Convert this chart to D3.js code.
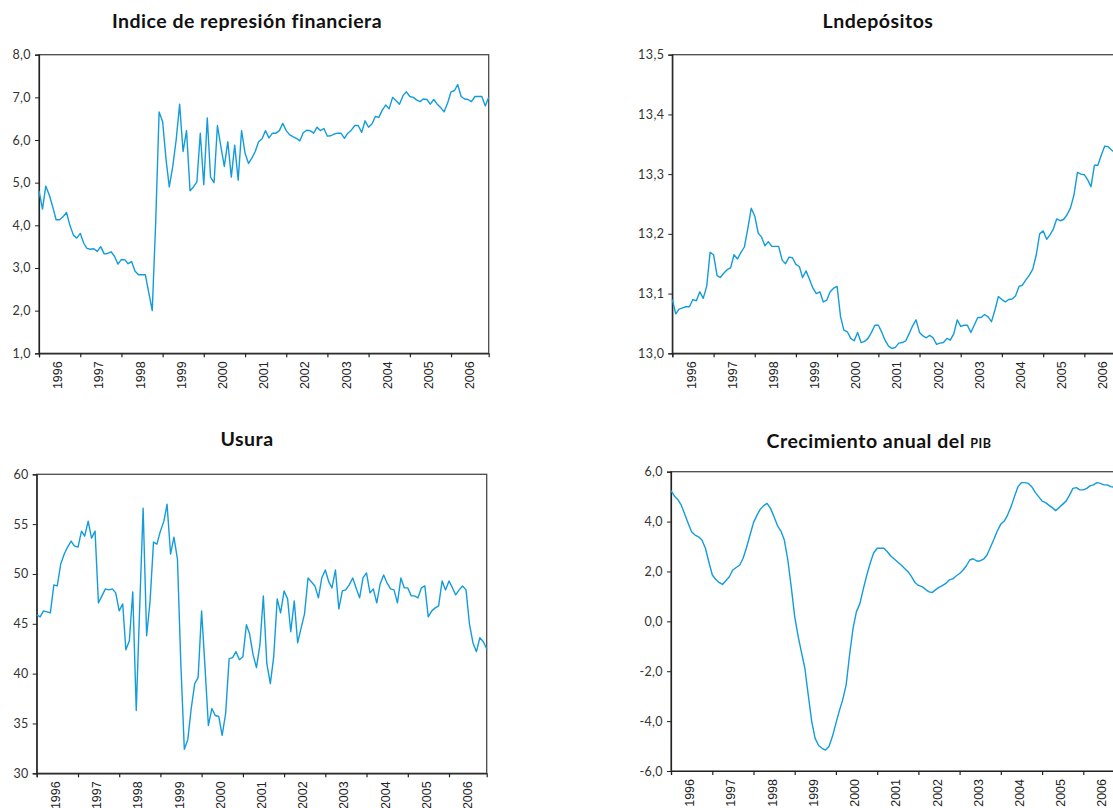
<!DOCTYPE html>
<html>
<head>
<meta charset="utf-8">
<script src="https://cdn.jsdelivr.net/npm/d3@7"></script>
<style>
body { margin: 0; background: #fff; }
</style>
</head>
<body>
<script>
// monthly series, Jan 1996 - Dec 2006
var represion = [
  4.81, 4.38, 4.92, 4.71, 4.44, 4.13, 4.13, 4.20, 4.30, 4.00, 3.77, 3.70,
  3.81, 3.58, 3.46, 3.44, 3.45, 3.39, 3.50, 3.33, 3.34, 3.38, 3.27, 3.09,
  3.20, 3.19, 3.10, 3.15, 2.93, 2.84, 2.84, 2.84, 2.41, 2.00, 4.10, 6.66,
  6.43, 5.53, 4.90, 5.38, 6.00, 6.84, 5.73, 6.22, 4.81, 4.90, 5.02, 6.16,
  4.95, 6.52, 5.13, 5.00, 6.34, 5.84, 5.38, 5.96, 5.13, 5.88, 5.06, 6.22,
  5.69, 5.45, 5.57, 5.73, 5.96, 6.03, 6.22, 6.05, 6.16, 6.16, 6.22, 6.39,
  6.22, 6.12, 6.08, 6.04, 5.98, 6.17, 6.23, 6.22, 6.16, 6.30, 6.22, 6.27,
  6.09, 6.10, 6.14, 6.16, 6.16, 6.04, 6.16, 6.23, 6.34, 6.34, 6.18, 6.45,
  6.30, 6.38, 6.55, 6.53, 6.70, 6.82, 6.73, 7.00, 6.92, 6.84, 7.04, 7.13,
  7.02, 7.00, 6.94, 6.90, 6.96, 6.95, 6.84, 6.95, 6.84, 6.76, 6.66, 6.86,
  7.13, 7.16, 7.30, 7.02, 6.96, 6.95, 6.90, 7.02, 7.02, 7.02, 6.80, 7.00
];

var lndepositos = [
  13.090, 13.066, 13.074, 13.076, 13.078, 13.078, 13.090, 13.088, 13.103, 13.092, 13.112, 13.169,
  13.165, 13.130, 13.127, 13.134, 13.140, 13.143, 13.165, 13.158, 13.169, 13.178, 13.209, 13.243,
  13.230, 13.201, 13.195, 13.180, 13.187, 13.179, 13.179, 13.179, 13.156, 13.150, 13.161, 13.160,
  13.149, 13.145, 13.127, 13.138, 13.124, 13.109, 13.100, 13.103, 13.086, 13.089, 13.103, 13.109,
  13.112, 13.061, 13.039, 13.036, 13.025, 13.021, 13.035, 13.018, 13.020, 13.025, 13.035, 13.047,
  13.047, 13.035, 13.022, 13.012, 13.008, 13.010, 13.017, 13.018, 13.021, 13.033, 13.046, 13.056,
  13.035, 13.029, 13.026, 13.030, 13.026, 13.015, 13.017, 13.018, 13.025, 13.022, 13.033, 13.056,
  13.045, 13.047, 13.047, 13.035, 13.047, 13.060, 13.060, 13.065, 13.061, 13.053, 13.073, 13.095,
  13.090, 13.086, 13.090, 13.091, 13.096, 13.112, 13.114, 13.123, 13.131, 13.141, 13.165, 13.200,
  13.205, 13.191, 13.198, 13.208, 13.225, 13.222, 13.224, 13.232, 13.244, 13.265, 13.303, 13.300,
  13.299, 13.290, 13.279, 13.315, 13.315, 13.332, 13.347, 13.346, 13.340, 13.336, 13.333, 13.338
];

var usura = [
  45.9, 45.7, 46.3, 46.2, 46.1, 48.9, 48.8, 51.0, 52.0, 52.7, 53.3, 52.8,
  52.7, 54.3, 53.8, 55.3, 53.6, 54.3, 47.1, 47.8, 48.5, 48.4, 48.5, 48.1,
  46.3, 47.0, 42.4, 43.3, 48.2, 36.3, 46.5, 56.6, 43.8, 47.2, 53.2, 53.0,
  54.3, 55.3, 57.0, 52.0, 53.7, 51.5, 41.0, 32.4, 33.4, 36.5, 39.0, 39.6,
  46.3, 40.5, 34.8, 36.5, 35.8, 35.7, 33.8, 36.0, 41.5, 41.6, 42.2, 41.4,
  41.7, 44.9, 44.0, 41.9, 40.6, 42.9, 47.8, 41.0, 39.0, 41.7, 47.5, 46.1,
  48.3, 47.5, 44.2, 47.3, 43.1, 44.6, 46.0, 49.6, 49.2, 48.8, 47.6, 49.6,
  50.4, 49.2, 48.6, 50.4, 46.5, 48.3, 48.4, 48.9, 49.6, 48.6, 47.6, 49.6,
  50.1, 48.1, 48.5, 47.1, 49.0, 49.9, 49.1, 48.5, 48.4, 47.1, 49.6, 48.6,
  48.6, 47.8, 47.8, 47.6, 48.6, 48.8, 45.7, 46.3, 46.6, 46.8, 49.3, 48.4,
  49.3, 48.6, 47.9, 48.4, 48.8, 48.4, 45.0, 43.1, 42.2, 43.6, 43.2, 42.5
];

var pib = [
  5.24, 5.02, 4.89, 4.66, 4.30, 3.93, 3.59, 3.46, 3.39, 3.26, 2.93, 2.39,
  1.86, 1.68, 1.56, 1.48, 1.63, 1.79, 2.06, 2.16, 2.26, 2.53, 2.97, 3.46,
  3.96, 4.26, 4.49, 4.64, 4.73, 4.53, 4.20, 3.84, 3.62, 3.26, 2.46, 1.39,
  0.19, -0.61, -1.22, -1.88, -2.95, -4.02, -4.69, -4.98, -5.09, -5.16, -5.02, -4.62,
  -4.09, -3.58, -3.15, -2.55, -1.35, -0.28, 0.39, 0.72, 1.32, 1.86, 2.35, 2.75,
  2.93, 2.93, 2.93, 2.79, 2.62, 2.50, 2.38, 2.26, 2.12, 1.99, 1.79, 1.56,
  1.44, 1.39, 1.30, 1.19, 1.15, 1.26, 1.36, 1.43, 1.52, 1.66, 1.70, 1.82,
  1.92, 2.06, 2.22, 2.46, 2.51, 2.42, 2.42, 2.49, 2.66, 2.97, 3.29, 3.62,
  3.90, 4.02, 4.26, 4.60, 5.00, 5.40, 5.56, 5.56, 5.53, 5.40, 5.17, 5.00,
  4.82, 4.76, 4.66, 4.56, 4.44, 4.56, 4.69, 4.82, 5.06, 5.33, 5.36, 5.27,
  5.27, 5.33, 5.43, 5.47, 5.56, 5.53, 5.47, 5.47, 5.40, 5.38, 5.35, 5.30
];

var years = [1996, 1997, 1998, 1999, 2000, 2001, 2002, 2003, 2004, 2005, 2006];

var months = d3.timeMonth.range(new Date(1996, 0, 1), new Date(2007, 0, 1));

var locale = d3.formatLocale({decimal: ",", thousands: ".", grouping: [3], currency: ["", ""], minus: "-"});
var fmt1 = locale.format(".1f");
var fmt0 = locale.format("d");

var lineColor = "#139cdc";

var svg = d3.select("body").append("svg")
    .attr("width", 1113)
    .attr("height", 808);

function drawPanel(o) {
  var g = svg.append("g");

  var x = d3.scaleTime()
      .domain([months[0], months[months.length - 1]])
      .range([o.left, o.right]);
  var y = d3.scaleLinear()
      .domain(o.domain)
      .range([o.bottom, o.top]);

  // frame
  g.append("rect")
      .attr("x", o.left)
      .attr("y", o.top)
      .attr("width", o.right - o.left)
      .attr("height", o.bottom - o.top)
      .attr("fill", "none")
      .attr("stroke", "#4a4a4a")
      .attr("stroke-width", 1.3);

  // y axis
  var yAxis = g.append("g")
      .attr("transform", "translate(" + o.left + ",0)")
      .call(d3.axisLeft(y).tickValues(o.ticks).tickFormat(o.fmt).tickSize(4).tickPadding(4));
  yAxis.select(".domain").attr("stroke", "#222").attr("stroke-width", 1.2);
  yAxis.selectAll(".tick line").attr("stroke", "#222");
  yAxis.selectAll(".tick text")
      .attr("font-family", "Lato, 'Open Sans', sans-serif")
      .attr("font-size", 12.5)
      .attr("letter-spacing", 0.4)
      .attr("fill", "#333");

  // x axis: ticks at year starts
  var xAxis = g.append("g")
      .attr("transform", "translate(0," + o.bottom + ")")
      .call(d3.axisBottom(x)
        .tickValues(years.map(function (yr) { return new Date(yr, 0, 1); }))
        .tickFormat("")
        .tickSize(4));
  xAxis.select(".domain").attr("stroke", "#222").attr("stroke-width", 1.2);
  xAxis.selectAll(".tick line").attr("stroke", "#222").attr("stroke-width", 1.2);

  // year labels, rotated, centred in each year
  g.selectAll(".yearlab")
      .data(years)
      .enter()
      .append("text")
      .attr("transform", function (d) {
        return "translate(" + x(new Date(d, 5, 16)) + "," + (o.bottom + 8) + ") rotate(-90)";
      })
      .attr("text-anchor", "end")
      .attr("dy", "0.35em")
      .attr("font-family", "'Liberation Sans', Arial, sans-serif")
      .attr("font-size", 12.5)
      .attr("fill", "#222")
      .text(function (d) { return d; });

  // series
  var line = d3.line()
      .x(function (d, i) { return x(months[i]); })
      .y(function (d) { return y(d); });

  g.append("path")
      .datum(o.values)
      .attr("d", line)
      .attr("fill", "none")
      .attr("stroke", lineColor)
      .attr("stroke-width", 1.4)
      .attr("stroke-linejoin", "round");

  // title
  var t = g.append("text")
      .attr("x", o.titleX)
      .attr("y", o.titleY)
      .attr("text-anchor", "middle")
      .attr("font-family", "Lato, 'Open Sans', sans-serif")
      .attr("font-weight", "bold")
      .attr("font-size", 19.5)
      .attr("letter-spacing", 0.5)
      .attr("fill", "#111");
  t.append("tspan").text(o.title);
  if (o.titleSmall) {
    t.append("tspan").attr("font-size", 12.5).text(o.titleSmall);
  }
}

drawPanel({
  values: represion, title: "Indice de represión financiera",
  titleX: 247, titleY: 28,
  left: 39, right: 488.7, top: 54.7, bottom: 353.3,
  domain: [1, 8], ticks: [1, 2, 3, 4, 5, 6, 7, 8], fmt: fmt1
});

drawPanel({
  values: lndepositos, title: "Lndepósitos",
  titleX: 878, titleY: 28,
  left: 672.3, right: 1122, top: 54.7, bottom: 353.3,
  domain: [13.0, 13.5], ticks: [13.0, 13.1, 13.2, 13.3, 13.4, 13.5], fmt: fmt1
});

drawPanel({
  values: usura, title: "Usura",
  titleX: 247, titleY: 446,
  left: 36.7, right: 486.7, top: 474.3, bottom: 773.3,
  domain: [30, 60], ticks: [30, 35, 40, 45, 50, 55, 60], fmt: fmt0
});

drawPanel({
  values: pib, title: "Crecimiento anual del ", titleSmall: "PIB",
  titleX: 879, titleY: 448,
  left: 671, right: 1121, top: 471.7, bottom: 771,
  domain: [-6, 6], ticks: [-6, -4, -2, 0, 2, 4, 6], fmt: fmt1
});
</script>
</body>
</html>
